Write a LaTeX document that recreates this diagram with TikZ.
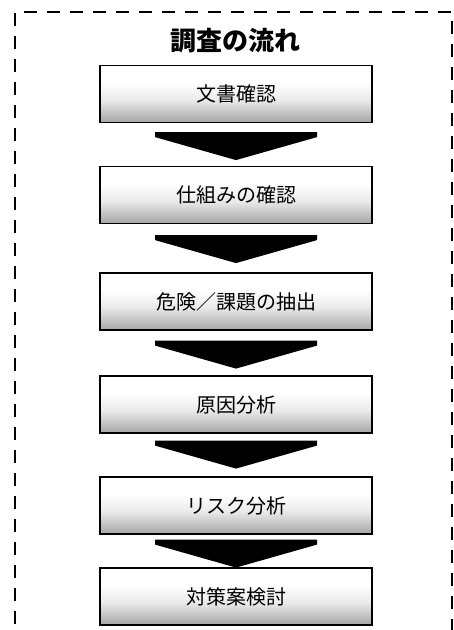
\documentclass[tikz,border=0pt]{standalone}
\usepackage{fontspec}
\newfontfamily\jp{Noto Sans CJK JP}
\usetikzlibrary{calc}
\pgfdeclareverticalshading{boxshade}{100bp}{color(0bp)=(black!80); color(8bp)=(black!65); color(25bp)=(black!35); color(45bp)=(black!8); color(60bp)=(white); color(100bp)=(white)}
\tikzset{
  stepbox/.style={draw=black, line width=1.2pt, minimum width=272pt, minimum height=57pt,
    inner sep=0pt, shading=boxshade,
    font=\jp\fontsize{20pt}{20pt}\selectfont},
  flowarrow/.style={fill=black},
  frame/.style={draw=black, line width=2.8pt, dash pattern=on 13pt off 10pt}
}
\newcommand\mkarrow[2]{%
  \fill[flowarrow] ($(#1.south)+(-81pt,-#2)$) -- ($(#1.south)+(81pt,-#2)$)
    -- ($(#1.south)+(81pt,-#2-5pt)$) -- ($(#1.south)+(0pt,-#2-28pt)$)
    -- ($(#1.south)+(-81pt,-#2-5pt)$) -- cycle;}
\begin{document}
\begin{tikzpicture}[x=1pt,y=1pt]
\useasboundingbox (0,0) rectangle (454,630);
\fill[white] (0,0) rectangle (454,630);
\begin{scope}
\clip (0,0) rectangle (454,630);
\draw[frame] (15,-40) -- (15,618) -- (452,618) -- (452,-40);
\end{scope}
\node[font=\jp\bfseries\fontsize{26pt}{26pt}\selectfont] (title) at (235,589) {調査の流れ};
\node[stepbox] (b1) at (236,536) {文書確認};
\node[stepbox] (b2) at (236,435) {仕組みの確認};
\node[stepbox] (b3) at (236,328.5) {危険／課題の抽出};
\node[stepbox] (b4) at (236,225.5) {原因分析};
\node[stepbox] (b5) at (236,124.5) {リスク分析};
\node[stepbox] (b6) at (236,33.5) {対策案検討};
\mkarrow{b1}{9pt}
\mkarrow{b2}{11pt}
\mkarrow{b3}{10pt}
\mkarrow{b4}{7pt}
\mkarrow{b5}{5pt}
\end{tikzpicture}
\end{document}
